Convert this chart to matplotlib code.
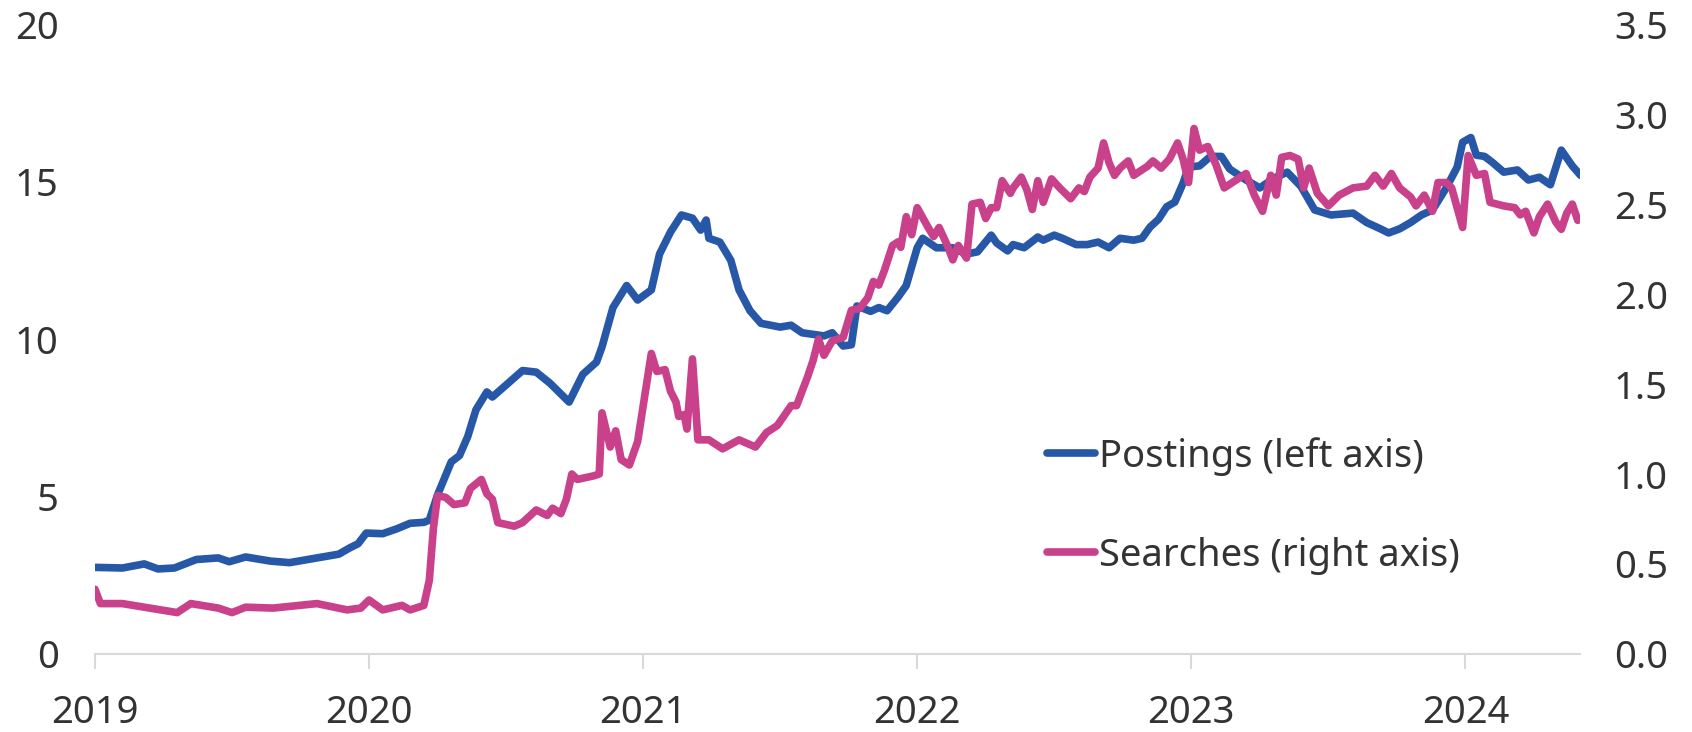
import matplotlib

matplotlib.use("Agg")
import matplotlib.pyplot as plt

# decimal-year dates and values
post_t = [
    2019.00, 2019.10, 2019.18, 2019.23, 2019.29, 2019.37, 2019.45, 2019.49, 2019.55, 2019.64,
    2019.71, 2019.81, 2019.89, 2019.93, 2019.96, 2019.99, 2020.05, 2020.10, 2020.15, 2020.20,
    2020.22, 2020.25, 2020.30, 2020.33, 2020.36, 2020.39, 2020.43, 2020.45, 2020.50, 2020.56,
    2020.61, 2020.66, 2020.73, 2020.78, 2020.83, 2020.85, 2020.89, 2020.94, 2020.98, 2021.03,
    2021.06, 2021.10, 2021.14, 2021.18, 2021.21, 2021.23, 2021.24, 2021.28, 2021.32, 2021.35,
    2021.39, 2021.43, 2021.50, 2021.54, 2021.58, 2021.66, 2021.69, 2021.73, 2021.76, 2021.78,
    2021.83, 2021.86, 2021.89, 2021.93, 2021.96, 2022.00, 2022.02, 2022.07, 2022.13, 2022.18,
    2022.22, 2022.27, 2022.29, 2022.33, 2022.35, 2022.39, 2022.44, 2022.46, 2022.50, 2022.53,
    2022.58, 2022.62, 2022.66, 2022.70, 2022.74, 2022.79, 2022.82, 2022.85, 2022.88, 2022.91,
    2022.94, 2022.97, 2022.99, 2023.03, 2023.07, 2023.11, 2023.14, 2023.20, 2023.25, 2023.30,
    2023.35, 2023.40, 2023.45, 2023.51, 2023.59, 2023.64, 2023.69, 2023.72, 2023.76, 2023.80,
    2023.84, 2023.88, 2023.93, 2023.97, 2023.99, 2024.02, 2024.04, 2024.07, 2024.10, 2024.14,
    2024.19, 2024.23, 2024.27, 2024.31, 2024.35, 2024.39, 2024.42,
]
postings = [
    2.75, 2.73, 2.86, 2.70, 2.73, 3.00, 3.05, 2.93, 3.08, 2.95,
    2.90, 3.05, 3.17, 3.37, 3.50, 3.84, 3.82, 3.97, 4.15, 4.18,
    4.25, 5.05, 6.10, 6.30, 6.90, 7.75, 8.32, 8.16, 8.54, 9.00,
    8.95, 8.60, 8.00, 8.88, 9.27, 9.75, 11.0, 11.7, 11.24, 11.56,
    12.7, 13.4, 13.94, 13.84, 13.46, 13.78, 13.2, 13.08, 12.5, 11.56,
    10.9, 10.5, 10.38, 10.44, 10.2, 10.1, 10.2, 9.78, 9.82, 11.05,
    10.88, 11.0, 10.9, 11.33, 11.7, 12.9, 13.2, 12.9, 12.9, 12.7,
    12.77, 13.3, 13.05, 12.8, 13.0, 12.9, 13.24, 13.14, 13.3, 13.2,
    13.0, 13.0, 13.08, 12.9, 13.2, 13.14, 13.2, 13.56, 13.8, 14.2,
    14.35, 14.95, 15.46, 15.5, 15.8, 15.8, 15.4, 15.05, 14.8, 15.1,
    15.3, 14.85, 14.1, 13.94, 14.0, 13.7, 13.5, 13.37, 13.5, 13.7,
    13.94, 14.1, 14.8, 15.46, 16.25, 16.4, 15.84, 15.8, 15.6, 15.3,
    15.37, 15.05, 15.14, 14.9, 16.0, 15.5, 15.2,
]

search_t = [
    2019.00, 2019.02, 2019.10, 2019.20, 2019.30, 2019.35, 2019.45, 2019.50, 2019.55, 2019.65,
    2019.81, 2019.92, 2019.97, 2020.00, 2020.05, 2020.12, 2020.15, 2020.20, 2020.22, 2020.235,
    2020.25, 2020.28, 2020.31, 2020.35, 2020.37, 2020.41, 2020.43, 2020.45, 2020.47, 2020.53,
    2020.56, 2020.61, 2020.65, 2020.67, 2020.70, 2020.72, 2020.74, 2020.76, 2020.82, 2020.84,
    2020.85, 2020.88, 2020.90, 2020.92, 2020.95, 2020.98, 2021.03, 2021.05, 2021.08, 2021.10,
    2021.12, 2021.13, 2021.15, 2021.16, 2021.18, 2021.20, 2021.24, 2021.29, 2021.35, 2021.41,
    2021.45, 2021.49, 2021.54, 2021.56, 2021.60, 2021.62, 2021.64, 2021.66, 2021.69, 2021.73,
    2021.76, 2021.79, 2021.82, 2021.84, 2021.86, 2021.88, 2021.91, 2021.93, 2021.94, 2021.96,
    2021.98, 2022.00, 2022.04, 2022.06, 2022.08, 2022.11, 2022.13, 2022.15, 2022.18, 2022.20,
    2022.23, 2022.25, 2022.27, 2022.29, 2022.31, 2022.34, 2022.35, 2022.38, 2022.40, 2022.42,
    2022.44, 2022.46, 2022.49, 2022.52, 2022.56, 2022.59, 2022.61, 2022.63, 2022.66, 2022.68,
    2022.70, 2022.72, 2022.74, 2022.77, 2022.79, 2022.81, 2022.84, 2022.86, 2022.89, 2022.92,
    2022.95, 2022.97, 2022.99, 2023.01, 2023.03, 2023.06, 2023.09, 2023.12, 2023.15, 2023.20,
    2023.23, 2023.26, 2023.29, 2023.31, 2023.33, 2023.36, 2023.39, 2023.41, 2023.43, 2023.46,
    2023.50, 2023.54, 2023.59, 2023.64, 2023.67, 2023.70, 2023.73, 2023.76, 2023.80, 2023.82,
    2023.85, 2023.88, 2023.90, 2023.93, 2023.95, 2023.99, 2024.01, 2024.04, 2024.07, 2024.09,
    2024.14, 2024.18, 2024.20, 2024.22, 2024.25, 2024.27, 2024.30, 2024.33, 2024.35, 2024.37,
    2024.39, 2024.41,
]
searches = [
    0.36, 0.28, 0.28, 0.255, 0.23, 0.28, 0.255, 0.23, 0.26, 0.255,
    0.28, 0.245, 0.255, 0.30, 0.245, 0.27, 0.245, 0.27, 0.41, 0.70,
    0.88, 0.87, 0.83, 0.84, 0.92, 0.97, 0.89, 0.86, 0.73, 0.71,
    0.73, 0.80, 0.77, 0.81, 0.78, 0.86, 1.00, 0.97, 0.99, 1.00,
    1.34, 1.15, 1.24, 1.08, 1.05, 1.18, 1.67, 1.57, 1.58, 1.46,
    1.40, 1.32, 1.33, 1.25, 1.64, 1.19, 1.19, 1.14, 1.19, 1.15,
    1.23, 1.27, 1.38, 1.38, 1.54, 1.63, 1.75, 1.66, 1.74, 1.76,
    1.91, 1.92, 1.98, 2.07, 2.05, 2.13, 2.27, 2.29, 2.26, 2.43,
    2.33, 2.48, 2.37, 2.32, 2.37, 2.27, 2.19, 2.27, 2.20, 2.50,
    2.51, 2.42, 2.48, 2.48, 2.63, 2.56, 2.59, 2.65, 2.58, 2.47,
    2.63, 2.51, 2.64, 2.59, 2.53, 2.59, 2.57, 2.65, 2.70, 2.84,
    2.73, 2.66, 2.70, 2.74, 2.66, 2.68, 2.71, 2.74, 2.70, 2.75,
    2.84, 2.75, 2.62, 2.92, 2.80, 2.82, 2.72, 2.59, 2.62, 2.67,
    2.55, 2.46, 2.66, 2.55, 2.76, 2.77, 2.75, 2.59, 2.70, 2.56,
    2.49, 2.55, 2.59, 2.60, 2.66, 2.60, 2.67, 2.59, 2.54, 2.49,
    2.55, 2.46, 2.62, 2.62, 2.59, 2.37, 2.77, 2.66, 2.67, 2.51,
    2.49, 2.48, 2.44, 2.46, 2.34, 2.43, 2.50, 2.40, 2.36, 2.45,
    2.50, 2.41,
]

years = [2019, 2020, 2021, 2022, 2023, 2024]
left_ticks = [0, 5, 10, 15, 20]
right_ticks = [0.0, 0.5, 1.0, 1.5, 2.0, 2.5, 3.0, 3.5]

BLUE = "#2757a7"
PINK = "#c8418a"
TXT = "#333333"
GRID = "#d9d9d9"
FS = 27.5

plt.rcParams.update({"font.family": ["Noto Sans", "DejaVu Sans"], "font.size": FS})

fig = plt.figure(figsize=(16.92, 7.32), dpi=100)
ax = fig.add_axes([0.0561, 0.1066, 0.878, 0.8604])
ax2 = ax.twinx()

l1, = ax.plot(post_t, postings, color=BLUE, lw=5.5, solid_capstyle="round",
              solid_joinstyle="round", label="Postings (left axis)")
l2, = ax2.plot(search_t, searches, color=PINK, lw=5.5, solid_capstyle="round",
               solid_joinstyle="round", label="Searches (right axis)")

ax.set_xlim(2019, 2024.42)
ax.set_ylim(0, 20)
ax2.set_ylim(0, 3.5)
ax.set_xticks(years)
ax.set_xticklabels([str(y) for y in years])
ax.set_yticks(left_ticks)
ax2.set_yticks(right_ticks)
ax2.set_yticklabels([f"{v:.1f}" for v in right_ticks])

for a in (ax, ax2):
    for s in ("top", "left", "right"):
        a.spines[s].set_visible(False)
    a.spines["bottom"].set_color(GRID)
    a.spines["bottom"].set_linewidth(1.5)
ax2.spines["bottom"].set_visible(False)

ax.tick_params(axis="x", length=11, width=1.5, color=GRID, labelcolor=TXT, pad=18, labelsize=FS)
ax.tick_params(axis="y", length=0, pad=26, labelcolor=TXT, labelsize=FS)
ax2.tick_params(axis="y", length=0, pad=24, labelcolor=TXT, labelsize=FS)

leg = ax2.legend(handles=[l1, l2], loc="center left", bbox_to_anchor=(0.619, 0.309),
                 bbox_transform=fig.transFigure, frameon=False, borderpad=0,
                 borderaxespad=0, handlelength=1.25, handletextpad=0.1,
                 labelspacing=1.6, fontsize=FS)
for t in leg.get_texts():
    t.set_color(TXT)

fig.savefig("out.png", dpi=100)
